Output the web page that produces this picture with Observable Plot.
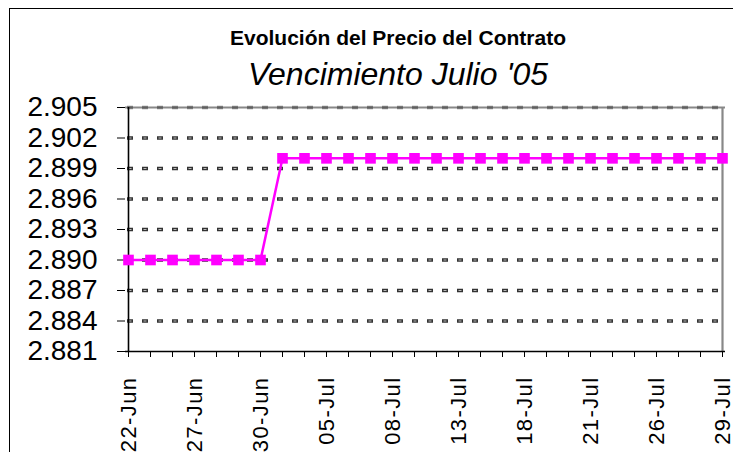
<!DOCTYPE html>
<html>
<head>
<meta charset="utf-8">
<script src="https://cdn.jsdelivr.net/npm/d3@7"></script>
<script src="https://cdn.jsdelivr.net/npm/@observablehq/plot@0.6"></script>
<style>
  html, body { margin: 0; padding: 0; background: #fff; }
  #wrap { position: relative; width: 733px; height: 452px; overflow: hidden; font-family: "Liberation Sans", Arial, sans-serif; }
  #frame { position: absolute; left: 9px; top: 8px; width: 730px; height: 450px; border-left: 1px solid #000; border-top: 1px solid #000; box-sizing: border-box; }
  #header { position: relative; height: 95px; }
  .t { position: absolute; left: 63px; right: 0; text-align: center; line-height: 1; white-space: nowrap; color: #000; }
  #title { top: 27px; font-size: 21px; font-weight: bold; }
  #subtitle { top: 58px; font-size: 32px; font-style: italic; }
  #chart svg { display: block; overflow: visible; }
  #chart g[aria-label="x-axis tick label"] text { letter-spacing: 1.4px; }
</style>
</head>
<body>
<div id="wrap">
  <div id="frame"></div>
  <div id="header">
    <div class="t" id="title">Evolución del Precio del Contrato</div>
    <div class="t" id="subtitle">Vencimiento Julio '05</div>
  </div>
  <div id="chart"></div>
</div>
<script>
// Trading days of the July 2005 contract
const fechas = [
  "22-Jun", "23-Jun", "24-Jun", "27-Jun", "28-Jun", "29-Jun", "30-Jun",
  "01-Jul", "04-Jul", "05-Jul", "06-Jul", "07-Jul", "08-Jul",
  "11-Jul", "12-Jul", "13-Jul", "14-Jul", "15-Jul",
  "18-Jul", "19-Jul", "20-Jul", "21-Jul", "22-Jul",
  "25-Jul", "26-Jul", "27-Jul", "28-Jul", "29-Jul"
];

// Settlement price for each day
const precios = [
  2.890, 2.890, 2.890, 2.890, 2.890, 2.890, 2.890,
  2.900, 2.900, 2.900, 2.900, 2.900, 2.900,
  2.900, 2.900, 2.900, 2.900, 2.900,
  2.900, 2.900, 2.900, 2.900, 2.900,
  2.900, 2.900, 2.900, 2.900, 2.900
];

// Value axis ticks
const ticksY = [2.881, 2.884, 2.887, 2.890, 2.893, 2.896, 2.899, 2.902, 2.905];

const serie = fechas.map((f, i) => ({fecha: f, precio: precios[i]}));
const rejilla = ticksY.slice(1, -1);
const primera = fechas[0];
const ultima = fechas[fechas.length - 1];
const magenta = "#ff00ff";

const chart = Plot.plot({
  width: 733,
  height: 357,
  marginLeft: 125,
  marginRight: 8,
  marginTop: 12,
  marginBottom: 101,
  style: {fontFamily: "'Liberation Sans', Arial, sans-serif", color: "#000", background: "transparent"},
  x: {type: "point", domain: fechas, padding: 0},
  y: {domain: [ticksY[0], ticksY[ticksY.length - 1]]},
  marks: [
    // dashed gridlines (dark outline with light core)
    Plot.ruleY(rejilla, {stroke: "#333", strokeWidth: 3.4, strokeDasharray: "6,9", strokeDashoffset: -2}),
    Plot.ruleY(rejilla, {stroke: "#bbb", strokeWidth: 1.2, strokeDasharray: "3,12", strokeDashoffset: -3.5}),
    // plot-area border (top and right)
    Plot.ruleY([ticksY[ticksY.length - 1]], {stroke: "#888", strokeWidth: 2.2}),
    Plot.ruleY([ticksY[ticksY.length - 1]], {stroke: "#444", strokeWidth: 3.4, strokeDasharray: "6,9", strokeDashoffset: -2, strokeOpacity: 0.6}),
    Plot.ruleX([ultima], {stroke: "#888", strokeWidth: 2.2}),
    // axes
    Plot.axisY({
      ticks: ticksY, tickFormat: d3.format(".3f"), tickSize: 8, tickPadding: 20,
      fontSize: 28, label: null, stroke: "#000"
    }),
    Plot.axisX({
      ticks: fechas, tickSize: 6, tickPadding: 19, tickRotate: -90,
      tickFormat: (d, i) => (i % 3 === 0 ? d : ""),
      fontSize: 22, label: null, stroke: "#000"
    }),
    Plot.ruleX([primera], {stroke: "#000", strokeWidth: 1.6}),
    Plot.ruleY([ticksY[0]], {stroke: "#000", strokeWidth: 1.6}),
    // price series
    Plot.line(serie, {x: "fecha", y: "precio", stroke: magenta, strokeWidth: 2.5}),
    Plot.dot(serie, {x: "fecha", y: "precio", symbol: "square", r: 6, fill: magenta, stroke: "none"})
  ]
});

document.getElementById("chart").appendChild(chart);
</script>
</body>
</html>
